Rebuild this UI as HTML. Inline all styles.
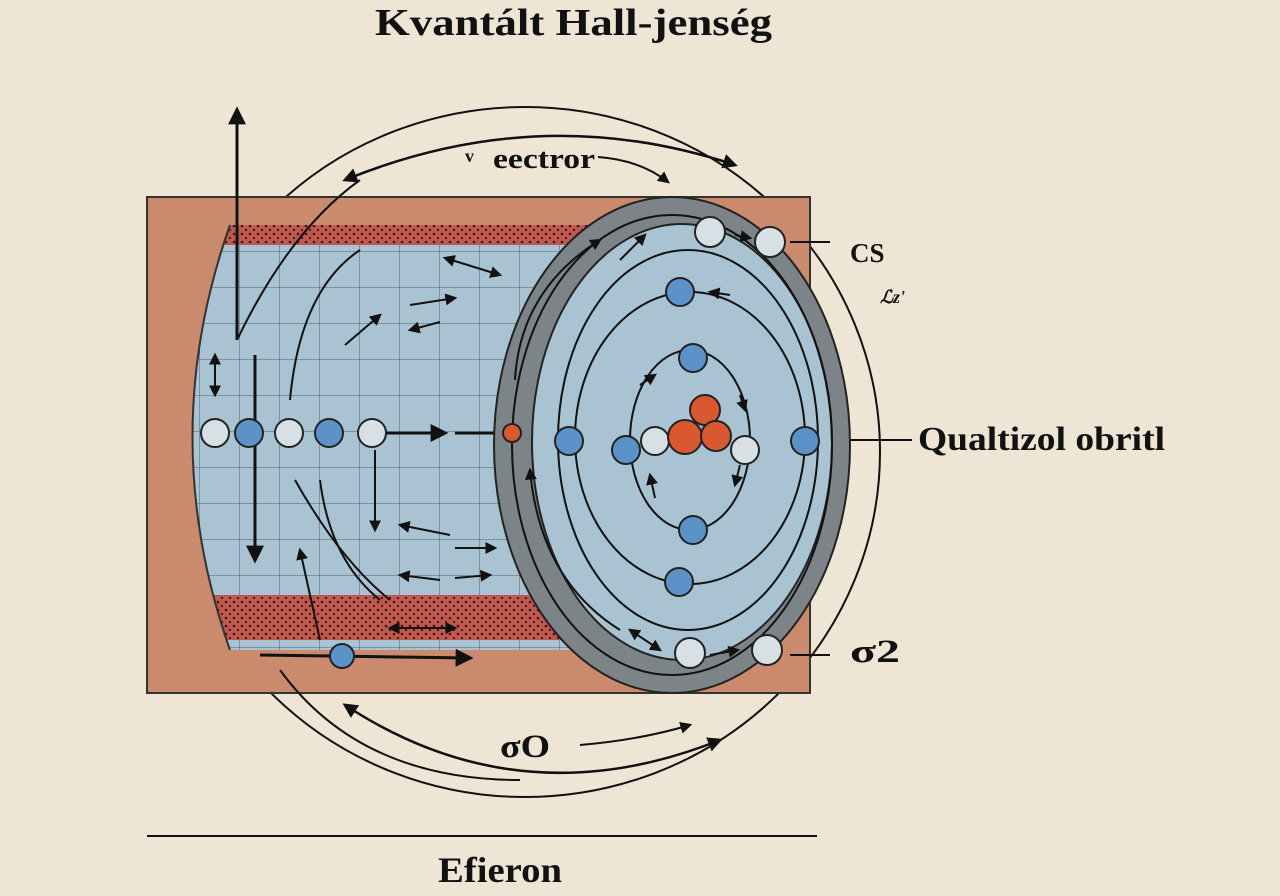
<!DOCTYPE html>
<html><head><meta charset="utf-8"><style>
html,body{margin:0;padding:0;background:#eee5d4;}
svg{display:block}
text{font-family:"Liberation Serif",serif;font-weight:bold;fill:#111}
</style></head><body>
<svg width="1280" height="896" viewBox="0 0 1280 896" xmlns="http://www.w3.org/2000/svg">
<defs>
<marker id="a" viewBox="0 0 10 10" refX="8" refY="5" markerWidth="6" markerHeight="6" orient="auto-start-reverse"><path d="M0,0L10,5L0,10z" fill="#111"/></marker>
<pattern id="dots" width="8" height="8" patternUnits="userSpaceOnUse"><rect width="8" height="8" fill="#c0584f"/><circle cx="2" cy="2" r="1.3" fill="#3a1a16"/><circle cx="6" cy="6" r="1.1" fill="#3a1a16"/></pattern>
<pattern id="grid" width="40" height="36" patternUnits="userSpaceOnUse"><rect width="40" height="36" fill="#a9c3d3"/><path d="M40,0V36M0,36H40" stroke="#50606c" stroke-width="1"/></pattern>
<clipPath id="inner"><path d="M230,225 H600 V650 H230 Q155,437 230,225z"/></clipPath>
</defs>
<rect width="1280" height="896" fill="#eee5d4"/>
<text x="375" y="35" font-size="38" textLength="397" lengthAdjust="spacingAndGlyphs">Kvantált Hall-jenség</text>
<ellipse cx="525" cy="452" rx="355" ry="345" fill="none" stroke="#111" stroke-width="2"/>
<rect x="147" y="197" width="663" height="496" fill="#c98a6e" stroke="#333" stroke-width="2"/>
<g clip-path="url(#inner)">
<rect x="150" y="225" width="460" height="425" fill="url(#grid)"/>
<rect x="150" y="225" width="460" height="20" fill="url(#dots)"/>
<rect x="150" y="595" width="460" height="45" fill="url(#dots)"/>
</g>
<path d="M230,225 Q155,437 230,650" fill="none" stroke="#333" stroke-width="2"/>
<g fill="none" stroke="#111" stroke-width="2">
<path d="M237,340 V110" marker-end="url(#a)" stroke-width="3"/>
<path d="M237,340 Q290,230 360,180" />
<path d="M255,355 V560" marker-end="url(#a)" stroke-width="3"/>
<path d="M215,355 V395" marker-end="url(#a)" marker-start="url(#a)"/>
<path d="M295,480 Q340,560 390,600"/>
<path d="M290,400 Q300,290 360,250"/>
<path d="M320,480 Q330,560 380,600"/>
<path d="M375,450 V530" marker-end="url(#a)"/>
<path d="M300,550 L320,640" marker-start="url(#a)"/>
<path d="M445,258 L500,275" marker-end="url(#a)" marker-start="url(#a)"/>
<path d="M410,305 L455,298" marker-end="url(#a)"/>
<path d="M345,345 L380,315" marker-end="url(#a)"/>
<path d="M410,330 L440,322" marker-start="url(#a)"/>
<path d="M400,525 L450,535" marker-start="url(#a)"/>
<path d="M455,548 L495,548" marker-end="url(#a)"/>
<path d="M400,575 L440,580" marker-start="url(#a)"/>
<path d="M455,578 L490,575" marker-end="url(#a)"/>
<path d="M390,628 L455,628" marker-end="url(#a)" marker-start="url(#a)"/>
<path d="M260,655 L470,658" marker-end="url(#a)" stroke-width="3"/>
<path d="M385,433 H445" marker-end="url(#a)" stroke-width="3"/>
<path d="M455,433 H497" stroke-width="3"/>
</g>
<ellipse cx="672" cy="445" rx="178" ry="248" fill="#7d8488" stroke="#222" stroke-width="2"/>
<ellipse cx="682" cy="442" rx="150" ry="218" fill="#a9c3d3" stroke="#222" stroke-width="2"/>
<g fill="none" stroke="#111" stroke-width="2">
<ellipse cx="672" cy="445" rx="160" ry="230"/>
<ellipse cx="688" cy="440" rx="130" ry="190"/>
<ellipse cx="690" cy="438" rx="115" ry="146"/>
<ellipse cx="690" cy="440" rx="60" ry="90"/>
<path d="M515,380 Q520,290 600,240" marker-end="url(#a)"/>
<path d="M530,470 Q540,580 620,630" marker-start="url(#a)"/>
<path d="M620,260 L645,235" marker-end="url(#a)"/>
<path d="M735,235 L750,238" marker-end="url(#a)"/>
<path d="M730,295 L710,292" marker-end="url(#a)"/>
<path d="M640,385 L655,375" marker-end="url(#a)"/>
<path d="M740,395 L745,410" marker-end="url(#a)"/>
<path d="M710,655 L738,650" marker-end="url(#a)"/>
<path d="M630,630 L660,650" marker-end="url(#a)" marker-start="url(#a)"/>
<path d="M650,475 L655,498" marker-start="url(#a)"/>
<path d="M740,465 L735,485" marker-end="url(#a)"/>
<path d="M790,242 H830 M790,655 H830"/>
<path d="M850,440 H912"/>
</g>
<g stroke="#222" stroke-width="2">
<circle cx="215" cy="433" r="14" fill="#d7e0e4"/>
<circle cx="249" cy="433" r="14" fill="#5b93c9"/>
<circle cx="289" cy="433" r="14" fill="#d7e0e4"/>
<circle cx="329" cy="433" r="14" fill="#5b93c9"/>
<circle cx="372" cy="433" r="14" fill="#d7e0e4"/>
<circle cx="512" cy="433" r="9" fill="#d9582f"/>
<circle cx="569" cy="441" r="14" fill="#5b93c9"/>
<circle cx="626" cy="450" r="14" fill="#5b93c9"/>
<circle cx="655" cy="441" r="14" fill="#d7e0e4"/>
<circle cx="745" cy="450" r="14" fill="#d7e0e4"/>
<circle cx="805" cy="441" r="14" fill="#5b93c9"/>
<circle cx="680" cy="292" r="14" fill="#5b93c9"/>
<circle cx="693" cy="358" r="14" fill="#5b93c9"/>
<circle cx="693" cy="530" r="14" fill="#5b93c9"/>
<circle cx="679" cy="582" r="14" fill="#5b93c9"/>
<circle cx="710" cy="232" r="15" fill="#d7e0e4"/>
<circle cx="770" cy="242" r="15" fill="#d7e0e4"/>
<circle cx="690" cy="653" r="15" fill="#d7e0e4"/>
<circle cx="767" cy="650" r="15" fill="#d7e0e4"/>
<circle cx="342" cy="656" r="12" fill="#5b93c9"/>
<circle cx="705" cy="410" r="15" fill="#d9582f"/>
<circle cx="685" cy="437" r="17" fill="#d9582f"/>
<circle cx="716" cy="436" r="15" fill="#d9582f"/>
</g>
<g fill="none" stroke="#111" stroke-width="2">
<path d="M345,180 Q540,100 735,165" marker-end="url(#a)" marker-start="url(#a)" stroke-width="2.5"/>
<path d="M598,157 Q640,160 668,182" marker-end="url(#a)"/>
<path d="M345,705 Q520,820 720,740" marker-end="url(#a)" marker-start="url(#a)" stroke-width="2.5"/>
<path d="M580,745 Q640,740 690,725" marker-end="url(#a)"/>
<path d="M280,670 Q360,780 520,780" />
</g>
<text x="465" y="162" font-size="18">v</text>
<text x="493" y="168" font-size="28" textLength="102" lengthAdjust="spacingAndGlyphs">eectror</text>
<text x="850" y="262" font-size="27">CS</text>
<text x="880" y="303" font-size="18" font-style="italic">ℒz'</text>
<text x="918" y="450" font-size="34" textLength="247" lengthAdjust="spacingAndGlyphs">Qualtizol obritl</text>
<text x="850" y="662" font-size="33" textLength="50" lengthAdjust="spacingAndGlyphs">σ2</text>
<text x="500" y="757" font-size="33" textLength="50" lengthAdjust="spacingAndGlyphs">σO</text>
<line x1="147" y1="836" x2="817" y2="836" stroke="#111" stroke-width="2"/>
<text x="438" y="882" font-size="36" textLength="124" lengthAdjust="spacingAndGlyphs">Efieron</text>
</svg>
</body></html>
